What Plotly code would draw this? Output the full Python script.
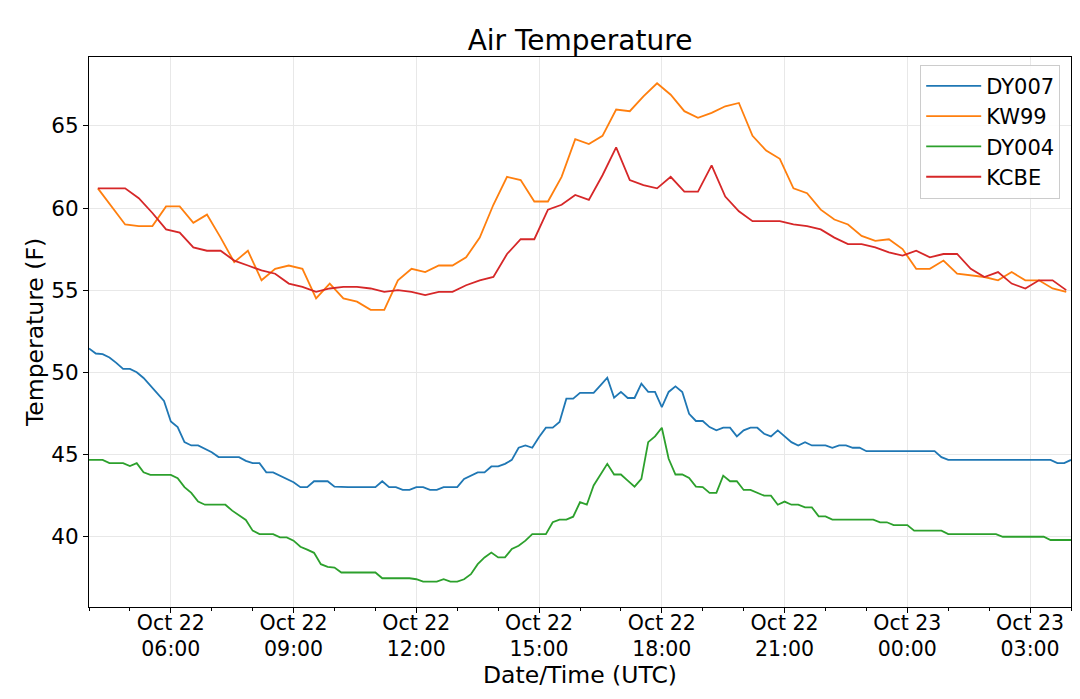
import pandas as pd
import plotly.graph_objects as go

# ---- data ----
dy_times = pd.date_range("2020-10-22 04:00", periods=145, freq="10min")
st_times = pd.date_range("2020-10-22 04:13", periods=72, freq="20min")

dy007 = [
    51.45, 51.14, 51.1, 50.9, 50.57, 50.2, 50.2, 50.0, 49.65, 49.2,
    48.7, 48.25, 47.0, 46.66, 45.74, 45.54, 45.54, 45.34, 45.13, 44.83,
    44.83, 44.83, 44.83, 44.6, 44.46, 44.46, 43.9, 43.9, 43.7, 43.5,
    43.3, 43.0, 43.0, 43.36, 43.36, 43.36, 43.03, 43.0, 43.0, 43.0,
    43.0, 43.0, 43.0, 43.36, 43.0, 43.0, 42.83, 42.83, 43.0, 43.0,
    42.83, 42.83, 43.0, 43.0, 43.0, 43.5, 43.7, 43.9, 43.9, 44.26,
    44.26, 44.42, 44.66, 45.4, 45.54, 45.4, 46.05, 46.62, 46.62, 46.97,
    48.39, 48.39, 48.74, 48.74, 48.74, 49.2, 49.67, 48.45, 48.8, 48.43,
    48.43, 49.3, 48.8, 48.8, 47.88, 48.8, 49.14, 48.8, 47.47, 47.03,
    47.03, 46.66, 46.46, 46.62, 46.62, 46.09, 46.46, 46.62, 46.62, 46.25,
    46.09, 46.46, 46.09, 45.74, 45.54, 45.74, 45.54, 45.54, 45.54, 45.4,
    45.54, 45.54, 45.4, 45.4, 45.19, 45.19, 45.19, 45.19, 45.19, 45.19,
    45.19, 45.19, 45.19, 45.19, 45.19, 44.83, 44.66, 44.66, 44.66, 44.66,
    44.66, 44.66, 44.66, 44.66, 44.66, 44.66, 44.66, 44.66, 44.66, 44.66,
    44.66, 44.66, 44.46, 44.46, 44.66,
]

dy004 = [
    44.66, 44.66, 44.66, 44.46, 44.46, 44.46, 44.28, 44.46, 43.9, 43.75,
    43.75, 43.75, 43.75, 43.54, 43.0, 42.65, 42.12, 41.93, 41.93, 41.93,
    41.93, 41.57, 41.26, 41.0, 40.35, 40.14, 40.14, 40.14, 39.94, 39.94,
    39.74, 39.37, 39.19, 39.0, 38.31, 38.15, 38.1, 37.8, 37.8, 37.8,
    37.8, 37.8, 37.8, 37.45, 37.45, 37.45, 37.45, 37.45, 37.39, 37.25,
    37.25, 37.25, 37.39, 37.25, 37.25, 37.39, 37.7, 38.31, 38.72, 39.02,
    38.72, 38.72, 39.23, 39.43, 39.74, 40.14, 40.14, 40.14, 40.86, 41.02,
    41.02, 41.2, 42.08, 41.93, 43.1, 43.8, 44.42, 43.77, 43.77, 43.4,
    43.03, 43.5, 45.74, 46.09, 46.62, 44.73, 43.77, 43.77, 43.56, 43.03,
    43.0, 42.65, 42.65, 43.7, 43.36, 43.36, 42.83, 42.83, 42.65, 42.48,
    42.48, 41.93, 42.12, 41.93, 41.93, 41.77, 41.77, 41.22, 41.22, 41.02,
    41.02, 41.02, 41.02, 41.02, 41.02, 41.02, 40.86, 40.86, 40.69, 40.69,
    40.69, 40.35, 40.35, 40.35, 40.35, 40.35, 40.14, 40.14, 40.14, 40.14,
    40.14, 40.14, 40.14, 40.14, 39.98, 39.98, 39.98, 39.98, 39.98, 39.98,
    39.98, 39.78, 39.78, 39.78, 39.78,
]

kw99 = [
    61.2, 60.1, 59.0, 58.9, 58.9, 60.1, 60.1, 59.1, 59.6, 58.2,
    56.7, 57.4, 55.6, 56.3, 56.5, 56.3, 54.5, 55.4, 54.5, 54.3,
    53.8, 53.8, 55.6, 56.3, 56.1, 56.5, 56.5, 57.0, 58.2, 60.2,
    61.9, 61.7, 60.4, 60.4, 61.9, 64.2, 63.9, 64.4, 66.0, 65.9,
    66.8, 67.6, 66.9, 65.9, 65.5, 65.8, 66.2, 66.4, 64.4, 63.5,
    63.0, 61.2, 60.9, 59.9, 59.3, 59.0, 58.3, 58.0, 58.1, 57.5,
    56.3, 56.3, 56.8, 56.0, 55.9, 55.8, 55.6, 56.1, 55.6, 55.6,
    55.1, 54.9,
]

kcbe = [
    61.2, 61.2, 61.2, 60.6, 59.7, 58.7, 58.5, 57.6, 57.4, 57.4,
    56.8, 56.5, 56.2, 56.0, 55.4, 55.2, 54.9, 55.1, 55.2, 55.2,
    55.1, 54.9, 55.0, 54.9, 54.7, 54.9, 54.9, 55.3, 55.6, 55.8,
    57.2, 58.1, 58.1, 59.9, 60.2, 60.8, 60.5, 62.0, 63.7, 61.7,
    61.4, 61.2, 61.9, 61.0, 61.0, 62.6, 60.7, 59.8, 59.2, 59.2,
    59.2, 59.0, 58.9, 58.7, 58.2, 57.8, 57.8, 57.6, 57.3, 57.1,
    57.4, 57.0, 57.2, 57.2, 56.3, 55.8, 56.1, 55.4, 55.1, 55.6,
    55.6, 55.0,
]

series_names = ["DY007", "KW99", "DY004", "KCBE"]
series_colors = ["#1f77b4", "#ff7f0e", "#2ca02c", "#d62728"]

# ---- figure ----
# page body has an 8px default margin, so the figure is sized to fit inside
W, H = 1064, 683
FONT = "DejaVu Sans"
fig = go.Figure()
for name, xs, ys, col in [
    (series_names[0], dy_times, dy007, series_colors[0]),
    (series_names[1], st_times, kw99, series_colors[1]),
    (series_names[2], dy_times, dy004, series_colors[2]),
    (series_names[3], st_times, kcbe, series_colors[3]),
]:
    fig.add_trace(go.Scatter(x=xs, y=ys, mode="lines", name=name,
                             line=dict(color=col, width=1.8)))

fig.update_layout(
    width=W, height=H,
    paper_bgcolor="white", plot_bgcolor="white",
    font=dict(family=FONT, size=21, color="black"),
    margin=dict(l=81, r=1, t=49, b=84, autoexpand=False),
    title=dict(text="Air Temperature", x=0.5, xref="paper", xanchor="center",
               y=1 - 32 / H, yref="container", yanchor="middle",
               font=dict(size=28, color="black")),
    showlegend=True,
    legend=dict(x=0.989, y=0.986, xanchor="right", yanchor="top",
                bgcolor="rgba(255,255,255,0.85)", bordercolor="#cccccc",
                borderwidth=1, font=dict(size=21), itemwidth=55,
                tracegroupgap=0),
)

fig.update_xaxes(
    type="date",
    range=["2020-10-22 04:00", "2020-10-23 04:00"],
    tick0="2020-10-22 06:00", dtick=3 * 3600 * 1000,
    tickformat="%b %d<br>%H:%M",
    ticks="outside", ticklen=5, tickwidth=1, tickcolor="black",
    tickfont=dict(size=20.5), ticklabelstandoff=-8,
    showgrid=True, gridcolor="#e8e8e8", gridwidth=1,
    showline=True, linecolor="black", linewidth=1, mirror=True,
    zeroline=False,
    minor=dict(dtick=3600 * 1000, tick0="2020-10-22 04:00", ticks="outside",
               ticklen=3, tickcolor="black", showgrid=False),
    title=dict(text="Date/Time (UTC)", font=dict(size=23.5), standoff=4),
)

fig.update_yaxes(
    range=[35.7, 69.2],
    tick0=0, dtick=5,
    ticks="outside", ticklen=5, tickwidth=1, tickcolor="black",
    tickfont=dict(size=21.5),
    showgrid=True, gridcolor="#e8e8e8", gridwidth=1,
    showline=True, linecolor="black", linewidth=1, mirror=True,
    zeroline=False,
    title=dict(text="Temperature (F)", font=dict(size=23.5), standoff=1),
)

fig.write_html("out.html")
